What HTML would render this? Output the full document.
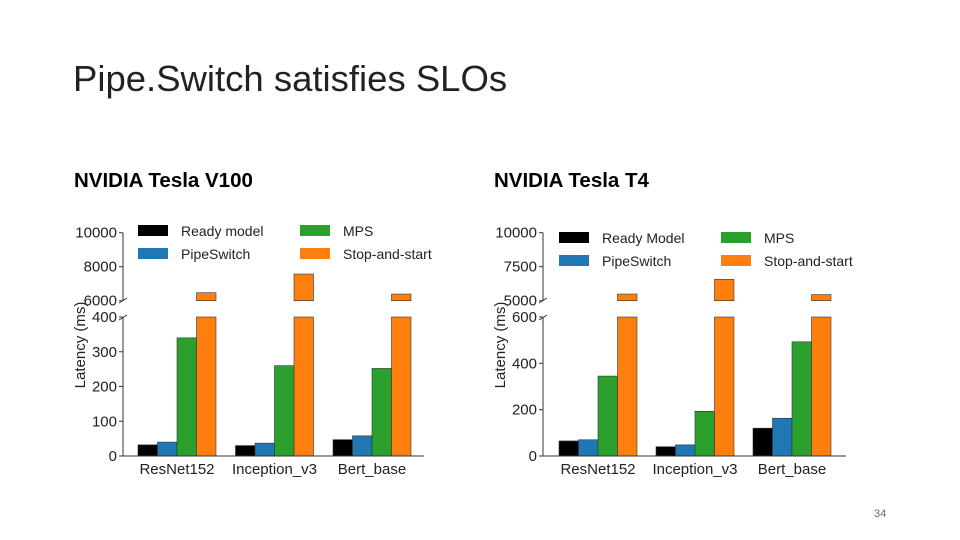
<!DOCTYPE html>
<html><head><meta charset="utf-8"><style>
body{margin:0;width:960px;height:540px;background:#fff;overflow:hidden;font-family:"Liberation Sans",sans-serif;position:relative}
.t{position:absolute;white-space:nowrap;color:#000}
</style></head><body>
<div class="t" style="left:73px;top:58px;font-size:36.5px;color:#222">Pipe.Switch satisfies SLOs</div>
<div class="t" style="left:74px;top:169px;font-size:20.5px;font-weight:bold">NVIDIA Tesla V100</div>
<div class="t" style="left:494px;top:169px;font-size:20.5px;font-weight:bold">NVIDIA Tesla T4</div>
<div class="t" style="left:874px;top:508px;font-size:11px;color:#666">34</div>
<svg id="svg" width="960" height="540" style="position:absolute;left:0;top:0"></svg>
<script>
const categories=["ResNet152","Inception_v3","Bert_base"];
const seriesNames=["Ready model","PipeSwitch","MPS","Stop-and-start"];
const seriesNamesT4=["Ready Model","PipeSwitch","MPS","Stop-and-start"];
const colors=["#000000","#1f77b4","#2ca02c","#ff7f0e"];
const v100Ready=[32,30,47];
const v100Pipe=[40,37,58];
const v100Mps=[340,260,252];
const v100Stop=[6470,7570,6390];
const t4Ready=[65,40,120];
const t4Pipe=[70,48,163];
const t4Mps=[345,193,493];
const t4Stop=[5490,6570,5450];
const v100LowTicks=[0,100,200,300,400];
const v100HighTicks=[6000,8000,10000];
const t4LowTicks=[0,200,400,600];
const t4HighTicks=[5000,7500,10000];
const NS="http://www.w3.org/2000/svg";
const svg=document.getElementById('svg');
function mk(tag,attrs,parent){const e=document.createElementNS(NS,tag);for(const k in attrs)e.setAttribute(k,attrs[k]);(parent||svg).appendChild(e);return e;}
function chart(o){
  const g=mk('g',{});
  
  
  const lowMax=o.lowTicks[o.lowTicks.length-1];
  const hMin=o.highTicks[0],hMax=o.highTicks[o.highTicks.length-1];
  const yLow=v=>456-(Math.min(v,lowMax)/lowMax)*139;
  const yHigh=v=>300.7-(v-hMin)/(hMax-hMin)*68;
  const bw=19.5;
  const series=[o.ready,o.pipe,o.mps,o.stop];
  series.forEach((s,si)=>{s.forEach((v,ci)=>{
    const x=o.x0+ci*o.gap+si*bw;
    const r=mk('rect',{x:x,y:yLow(v),width:bw,height:456-yLow(v),fill:colors[si],stroke:'#333','stroke-width':0.6},g);
    
    
    if(v>hMin){
      const r2=mk('rect',{x:x,y:yHigh(v),width:bw,height:300.7-yHigh(v),fill:colors[si],stroke:'#333','stroke-width':0.6},g);
      
      
    }
  });});
  mk('line',{x1:o.ax,y1:317,x2:o.ax,y2:456,stroke:'#333','stroke-width':1},g);
  mk('line',{x1:o.ax,y1:232.7,x2:o.ax,y2:300.7,stroke:'#333','stroke-width':1},g);
  mk('line',{x1:o.ax,y1:456,x2:o.axEnd,y2:456,stroke:'#333','stroke-width':1},g);
  mk('line',{x1:o.ax-4,y1:303,x2:o.ax+4,y2:298,stroke:'#333','stroke-width':1},g);
  mk('line',{x1:o.ax-4,y1:320,x2:o.ax+4,y2:315,stroke:'#333','stroke-width':1},g);
  o.lowTicks.forEach(t=>{
    mk('line',{x1:o.ax-4,y1:yLow(t),x2:o.ax,y2:yLow(t),stroke:'#333'},g);
    const tx=mk('text',{x:o.ax-6,y:yLow(t)+5,'text-anchor':'end','font-size':15,fill:'#222'},g);tx.textContent=t;
    
  });
  o.highTicks.forEach(t=>{
    mk('line',{x1:o.ax-4,y1:yHigh(t),x2:o.ax,y2:yHigh(t),stroke:'#333'},g);
    const tx=mk('text',{x:o.ax-6,y:yHigh(t)+5,'text-anchor':'end','font-size':15,fill:'#222'},g);tx.textContent=t;
    
  });
  categories.forEach((c,ci)=>{
    const tx=mk('text',{x:o.x0+ci*o.gap+2*bw,y:474,'text-anchor':'middle','font-size':15,fill:'#222'},g);tx.textContent=c;
    
  });
  const yl=mk('text',{x:0,y:0,transform:`translate(${o.ax-38},345) rotate(-90)`,'text-anchor':'middle','font-size':15,fill:'#222'},g);yl.textContent='Latency (ms)';
  
  o.names.forEach((n,i)=>{
    const lx=o.x0+(i>=2?162:0), ly=o.ly+(i%2)*23;
    const p=mk('rect',{x:lx,y:ly-6,width:30,height:11,fill:colors[i]},g);
    
    const tx=mk('text',{x:lx+43,y:ly+5,'font-size':14,fill:'#222'},g);tx.textContent=n;
    
  });
}
chart({name:'v100-chart',x0:138,gap:97.5,ax:123,axEnd:424,ly:231,names:seriesNames,ready:v100Ready,pipe:v100Pipe,mps:v100Mps,stop:v100Stop,lowTicks:v100LowTicks,highTicks:v100HighTicks});
chart({name:'t4-chart',x0:559,gap:97,ax:543,axEnd:846,ly:238,names:seriesNamesT4,ready:t4Ready,pipe:t4Pipe,mps:t4Mps,stop:t4Stop,lowTicks:t4LowTicks,highTicks:t4HighTicks});
</script>
</body></html>
